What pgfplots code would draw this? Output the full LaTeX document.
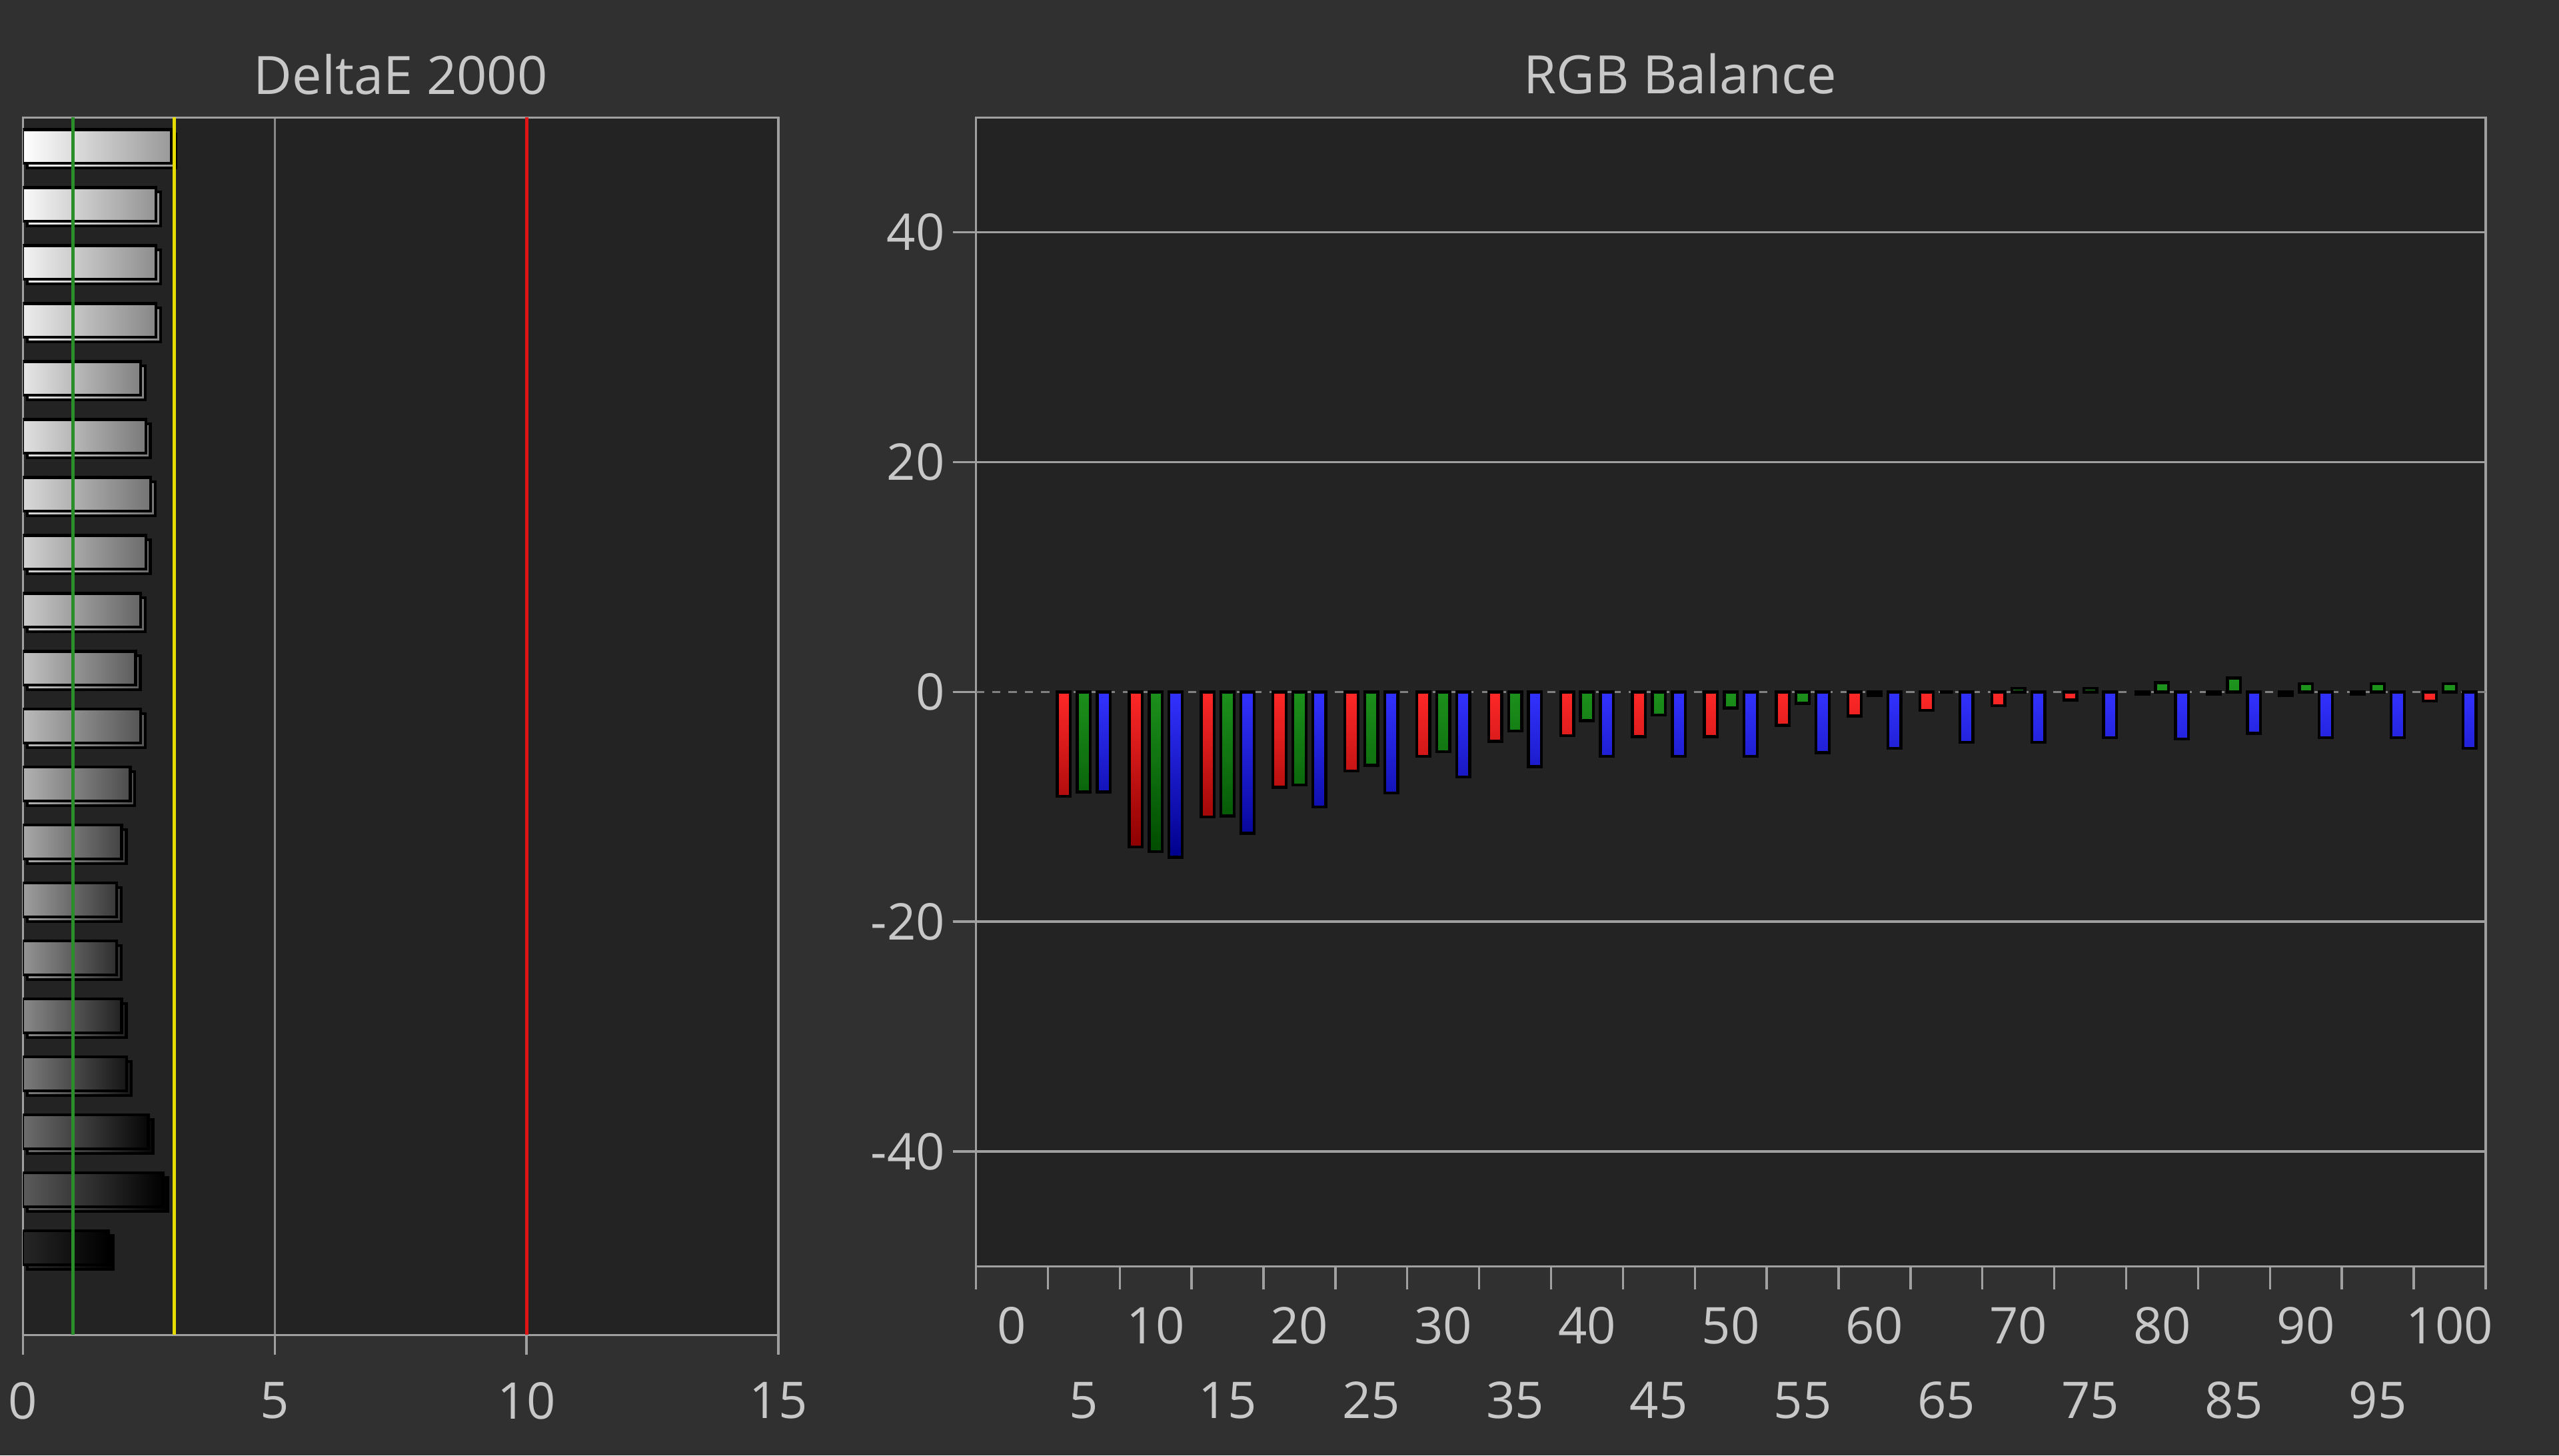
\documentclass[border=0pt]{standalone}
\usepackage{pgfplots}
\pgfplotsset{compat=1.18}
\usepackage{fontspec}
\setmainfont{Open Sans}
\usetikzlibrary{shadows}
\definecolor{bgout}{HTML}{303030}
\definecolor{bgin}{HTML}{232323}
\definecolor{axcol}{HTML}{A0A0A0}
\definecolor{txt}{HTML}{C8C8C8}
\definecolor{refgreen}{HTML}{2A8F2A}
\definecolor{refyellow}{HTML}{E6DC00}
\definecolor{refred}{HTML}{E01414}
\pgfplotsset{
  dbar/.style={xbar, bar width=10.4pt, draw=black, line width=0.9pt,
    drop shadow={shadow xshift=1.4pt, shadow yshift=-1.4pt, fill=black, opacity=1}},
}
\begin{document}
\begin{tikzpicture}[font=\fontsize{15.5}{18}\selectfont]
\fill[bgout] (0,0) rectangle (784pt,446pt);
% ---------------- DeltaE 2000 ----------------
\begin{axis}[
  at={(7pt,37pt)}, anchor=south west, scale only axis,
  width=231.5pt, height=373pt,
  xmin=0, xmax=15, ymin=-0.5, ymax=20.5,
  axis background/.style={fill=bgin},
  axis line style={axcol, line width=0.7pt},
  xtick={0,5,10,15}, ytick=\empty, tick pos=left,
  tick align=outside, major tick length=6pt,
  tick style={axcol, line width=0.7pt},
  xmajorgrids, grid style={axcol!85!black, line width=0.7pt},
  ticklabel style={text=txt},
  xticklabel style={yshift=-5pt},
  /pgf/number format/assume math mode=true,
  title={DeltaE 2000}, title style={text=txt, anchor=base, at={(0.5,1)}, yshift=1.2pt, font=\fontsize{16.2}{19}\selectfont},
]
\addplot[dbar, left color=white!100!black, right color=white!60!black] coordinates {(2.95,20)};
\addplot[dbar, left color=white!97.7!black, right color=white!57.7!black] coordinates {(2.64,19)};
\addplot[dbar, left color=white!95.4!black, right color=white!55.4!black] coordinates {(2.64,18)};
\addplot[dbar, left color=white!92.9!black, right color=white!52.9!black] coordinates {(2.64,17)};
\addplot[dbar, left color=white!90.5!black, right color=white!50.5!black] coordinates {(2.34,16)};
\addplot[dbar, left color=white!87.9!black, right color=white!47.9!black] coordinates {(2.44,15)};
\addplot[dbar, left color=white!85.2!black, right color=white!45.2!black] coordinates {(2.54,14)};
\addplot[dbar, left color=white!82.4!black, right color=white!42.4!black] coordinates {(2.44,13)};
\addplot[dbar, left color=white!79.5!black, right color=white!39.5!black] coordinates {(2.34,12)};
\addplot[dbar, left color=white!76.4!black, right color=white!36.4!black] coordinates {(2.24,11)};
\addplot[dbar, left color=white!73.2!black, right color=white!33.2!black] coordinates {(2.34,10)};
\addplot[dbar, left color=white!69.8!black, right color=white!29.8!black] coordinates {(2.13,9)};
\addplot[dbar, left color=white!66.2!black, right color=white!26.2!black] coordinates {(1.96,8)};
\addplot[dbar, left color=white!62.3!black, right color=white!22.3!black] coordinates {(1.86,7)};
\addplot[dbar, left color=white!58.2!black, right color=white!18.2!black] coordinates {(1.86,6)};
\addplot[dbar, left color=white!53.6!black, right color=white!13.6!black] coordinates {(1.96,5)};
\addplot[dbar, left color=white!48.5!black, right color=white!8.5!black] coordinates {(2.06,4)};
\addplot[dbar, left color=white!42.6!black, right color=white!2.6!black] coordinates {(2.49,3)};
\addplot[dbar, left color=white!35.5!black, right color=white!0!black] coordinates {(2.79,2)};
\addplot[dbar, left color=white!15!black, right color=white!0!black] coordinates {(1.70,1)};
\addplot[refgreen, line width=1pt] coordinates {(1,-0.5) (1,20.5)};
\addplot[refyellow, line width=1pt] coordinates {(3,-0.5) (3,20.5)};
\addplot[refred, line width=1.1pt] coordinates {(10,-0.5) (10,20.5)};
\end{axis}
% ---------------- RGB Balance ----------------
\begin{axis}[
  at={(299pt,58pt)}, anchor=south west, scale only axis,
  width=462.5pt, height=352pt,
  xmin=-2.5, xmax=102.5, ymin=-50, ymax=50,
  axis background/.style={fill=bgin},
  axis line style={axcol, line width=0.7pt},
  tick pos=left, tick align=outside,
  major tick length=0pt, minor tick length=7pt,
  tick style={axcol, line width=0.7pt},
  xtick={0,5,...,100},
  xticklabels={0,{\mbox{}\\[16pt]5},10,{\mbox{}\\[16pt]15},20,{\mbox{}\\[16pt]25},30,{\mbox{}\\[16pt]35},40,{\mbox{}\\[16pt]45},50,{\mbox{}\\[16pt]55},60,{\mbox{}\\[16pt]65},70,{\mbox{}\\[16pt]75},80,{\mbox{}\\[16pt]85},90,{\mbox{}\\[16pt]95},100},
  xticklabel style={align=center, yshift=-9pt},
  minor xtick={-2.5,2.5,...,102.5},
  ytick={-40,-20,20,40},
  minor ytick={-40,-20,0,20,40},
  extra y ticks={0},
  extra y tick style={grid style={axcol!80!black, line width=0.6pt, dash pattern=on 2.5pt off 2.5pt}},
  ymajorgrids, grid style={axcol, line width=0.7pt},
  ticklabel style={text=txt},
  yticklabel style={xshift=-6pt},
  /pgf/number format/assume math mode=true,
  title={RGB Balance}, title style={text=txt, anchor=base, at={(0.5,1)}, yshift=1.2pt, xshift=-15.5pt, font=\fontsize{16.2}{19}\selectfont},
]
\addplot[ybar, bar width=4pt, bar shift=-6.1pt, draw=black, line width=0.9pt,
  top color={rgb,255:red,255;green,40;blue,40}, bottom color={rgb,255:red,140;green,0;blue,0}]
  coordinates {(5,-9.1) (10,-13.5) (15,-10.9) (20,-8.3) (25,-6.9) (30,-5.6) (35,-4.3) (40,-3.8) (45,-3.9) (50,-3.9) (55,-2.9) (60,-2.1) (65,-1.6) (70,-1.2) (75,-0.7) (80,-0.2) (85,-0.2) (90,-0.3) (95,-0.2) (100,-0.8)};
\addplot[ybar, bar width=4pt, bar shift=0pt, draw=black, line width=0.9pt,
  top color={rgb,255:red,30;green,150;blue,30}, bottom color={rgb,255:red,0;green,75;blue,0}]
  coordinates {(5,-8.7) (10,-13.9) (15,-10.8) (20,-8.1) (25,-6.4) (30,-5.2) (35,-3.4) (40,-2.5) (45,-2.0) (50,-1.4) (55,-1.0) (60,-0.3) (65,0) (70,0.3) (75,0.3) (80,0.8) (85,1.2) (90,0.7) (95,0.7) (100,0.7)};
\addplot[ybar, bar width=4pt, bar shift=6.1pt, draw=black, line width=0.9pt,
  top color={rgb,255:red,50;green,50;blue,255}, bottom color={rgb,255:red,0;green,0;blue,140}]
  coordinates {(5,-8.7) (10,-14.4) (15,-12.3) (20,-10.0) (25,-8.8) (30,-7.4) (35,-6.5) (40,-5.6) (45,-5.6) (50,-5.6) (55,-5.3) (60,-4.9) (65,-4.4) (70,-4.4) (75,-4.0) (80,-4.1) (85,-3.6) (90,-4.0) (95,-4.0) (100,-4.9)};
\end{axis}
\pgfresetboundingbox
\path[use as bounding box] (0,0) rectangle (784pt,446pt);
\end{tikzpicture}
\end{document}
